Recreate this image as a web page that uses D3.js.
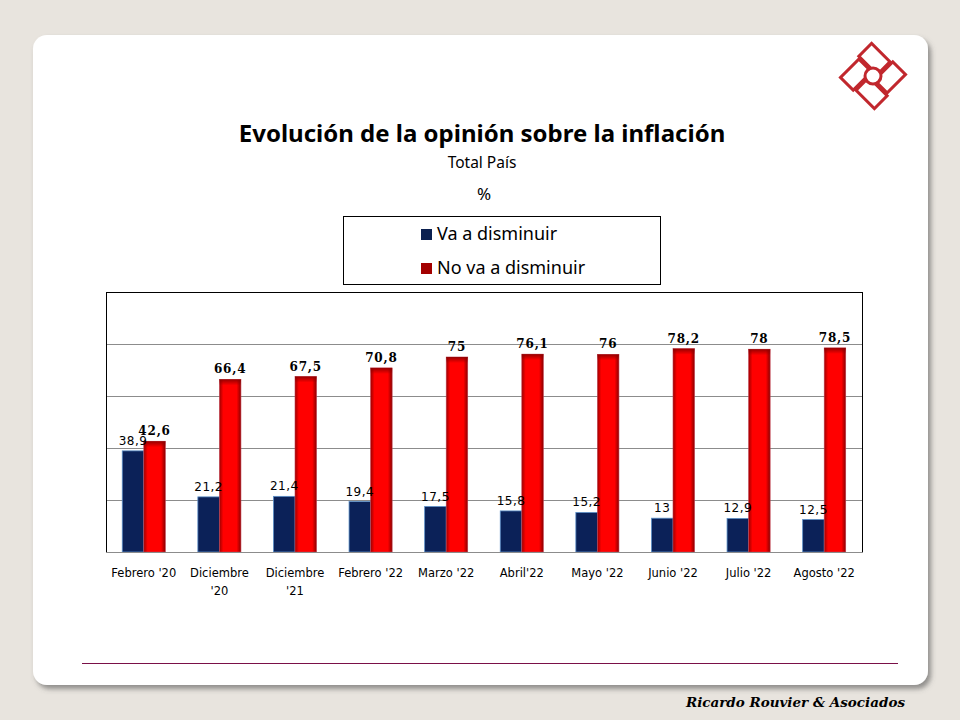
<!DOCTYPE html>
<html>
<head>
<meta charset="utf-8">
<script src="https://cdn.jsdelivr.net/npm/d3@7"></script>
<style>
  body { margin: 0; background: #e8e4de; }
  svg { display: block; }
</style>
</head>
<body>
<div id="container"></div>
<script>
// data
var categories = ["Febrero '20", "Diciembre '20", "Diciembre '21", "Febrero '22", "Marzo '22",
                  "Abril'22", "Mayo '22", "Junio '22", "Julio '22", "Agosto '22"];
var vaDisminuir = [38.9, 21.2, 21.4, 19.4, 17.5, 15.8, 15.2, 13, 12.9, 12.5];
var noVaDisminuir = [42.6, 66.4, 67.5, 70.8, 75, 76.1, 76, 78.2, 78, 78.5];
var seriesNames = ["Va a disminuir", "No va a disminuir"];
var yTicks = [0, 20, 40, 60, 80, 100];

var W = 960, H = 720;
var svg = d3.select("#container").append("svg").attr("width", W).attr("height", H);
var defs = svg.append("defs");

// panel shadow
var f = defs.append("filter").attr("id", "shadow").attr("x", "-5%").attr("y", "-5%").attr("width", "110%").attr("height", "112%");
f.append("feDropShadow").attr("dx", 3).attr("dy", 4).attr("stdDeviation", 2.5).attr("flood-color", "#555").attr("flood-opacity", 0.6);

var redGrad = defs.append("linearGradient").attr("id", "redGrad").attr("x1", "0%").attr("x2", "100%");
redGrad.append("stop").attr("offset", "0%").attr("stop-color", "#9e0000");
redGrad.append("stop").attr("offset", "18%").attr("stop-color", "#ff0000");
redGrad.append("stop").attr("offset", "80%").attr("stop-color", "#ff0000");
redGrad.append("stop").attr("offset", "100%").attr("stop-color", "#8a0000");

var redTop = defs.append("linearGradient").attr("id", "redTop").attr("x1", "0%").attr("x2", "0%").attr("y1", "0%").attr("y2", "100%");
redTop.append("stop").attr("offset", "0%").attr("stop-color", "#8a0000").attr("stop-opacity", 0.9);
redTop.append("stop").attr("offset", "100%").attr("stop-color", "#8a0000").attr("stop-opacity", 0);

svg.append("rect").attr("x", 33).attr("y", 35).attr("width", 895).attr("height", 650)
  .attr("rx", 14).attr("fill", "#fff").attr("filter", "url(#shadow)");

// logo
var logo = svg.append("g").attr("transform", "translate(873,76) rotate(45)")
  .attr("fill", "none").attr("stroke", "#c1272d").attr("stroke-width", 3);
logo.append("rect").attr("x", -24).attr("y", -22).attr("width", 26).attr("height", 18);
logo.append("rect").attr("x", 4).attr("y", -24).attr("width", 18).attr("height", 26);
logo.append("rect").attr("x", -2).attr("y", 4).attr("width", 26).attr("height", 18);
logo.append("rect").attr("x", -22).attr("y", -2).attr("width", 18).attr("height", 26);
logo.append("circle").attr("r", 8).attr("fill", "#fff");

// titles
svg.append("text").attr("x", 482).attr("y", 142).attr("text-anchor", "middle")
  .style("font-family", "'Noto Sans', sans-serif").style("font-weight", "bold").style("font-size", "24px")
  .text("Evolución de la opinión sobre la inflación");
svg.append("text").attr("x", 482).attr("y", 168).attr("text-anchor", "middle")
  .style("font-family", "'Noto Sans', sans-serif").style("font-size", "15.5px").text("Total País");
svg.append("text").attr("x", 484).attr("y", 200).attr("text-anchor", "middle")
  .style("font-family", "'Noto Sans', sans-serif").style("font-size", "17px").text("%");

// legend
var legend = svg.append("g");
legend.append("rect").attr("x", 343.5).attr("y", 216.5).attr("width", 317).attr("height", 68)
  .attr("fill", "#fff").attr("stroke", "#000");
var legendColors = ["#0b2050", "#a30000"];
seriesNames.forEach(function(s, i) {
  legend.append("rect").attr("x", 421).attr("y", 229 + i * 34).attr("width", 11).attr("height", 11)
    .attr("fill", legendColors[i]);
  legend.append("text").attr("x", 437).attr("y", 240 + i * 34)
    .style("font-family", "'Noto Sans', sans-serif").style("font-size", "18px").text(s);
});

// plot
var pLeft = 106, pRight = 862, pTop = 292, pBottom = 552;
var y = d3.scaleLinear().domain([0, 100]).range([pBottom, pTop]);
var x0 = d3.scaleBand().domain(categories).range([pLeft, pRight]).paddingInner(0.43).paddingOuter(0.215);
var x1 = d3.scaleBand().domain(seriesNames).range([0, x0.bandwidth()]);

svg.append("g").selectAll("line").data(yTicks.slice(1, 5)).enter().append("line")
  .attr("x1", pLeft).attr("x2", pRight).attr("y1", function(d) { return Math.round(y(d)) + 0.5; }).attr("y2", function(d) { return Math.round(y(d)) + 0.5; })
  .attr("stroke", "#8c8c8c").attr("stroke-width", 1);

svg.append("rect").attr("x", pLeft + 0.5).attr("y", pTop + 0.5).attr("width", pRight - pLeft).attr("height", pBottom - pTop)
  .attr("fill", "none").attr("stroke", "#000").attr("stroke-width", 1);

var groups = svg.append("g").selectAll("g").data(categories).enter().append("g")
  .attr("transform", function(d) { return "translate(" + x0(d) + ",0)"; });

groups.append("rect")
  .attr("x", x1(seriesNames[0]))
  .attr("y", function(d, i) { return y(vaDisminuir[i]); })
  .attr("width", x1.bandwidth())
  .attr("height", function(d, i) { return pBottom - y(vaDisminuir[i]); })
  .attr("fill", "#0b2158").attr("stroke", "#5b8fc8").attr("stroke-width", 0.8);

groups.append("rect")
  .attr("x", x1(seriesNames[1]))
  .attr("y", function(d, i) { return y(noVaDisminuir[i]); })
  .attr("width", x1.bandwidth())
  .attr("height", function(d, i) { return pBottom - y(noVaDisminuir[i]); })
  .attr("fill", "url(#redGrad)").attr("stroke", "#c04050").attr("stroke-width", 0.6);
groups.append("rect")
  .attr("x", x1(seriesNames[1]))
  .attr("y", function(d, i) { return y(noVaDisminuir[i]); })
  .attr("width", x1.bandwidth())
  .attr("height", 6)
  .attr("fill", "url(#redTop)");

svg.append("line").attr("x1", pLeft).attr("x2", pRight + 1).attr("y1", pBottom + 0.5).attr("y2", pBottom + 0.5)
  .attr("stroke", "#8c8c8c");

var fmt = function(v) { return String(v).replace(".", ","); };

groups.append("text")
  .attr("x", x1(seriesNames[0]) + x1.bandwidth() / 2)
  .attr("y", function(d, i) { return y(vaDisminuir[i]) - 6; })
  .attr("text-anchor", "middle")
  .style("font-family", "'DejaVu Sans', sans-serif").style("font-size", "12px").style("letter-spacing", "0.5px")
  .text(function(d, i) { return fmt(vaDisminuir[i]); });

groups.append("text")
  .attr("x", x1(seriesNames[1]) + x1.bandwidth() / 2)
  .attr("y", function(d, i) { return y(noVaDisminuir[i]) - 6; })
  .attr("text-anchor", "middle")
  .style("font-family", "'DejaVu Serif', serif").style("font-weight", "bold").style("font-size", "12px").style("letter-spacing", "0.8px")
  .text(function(d, i) { return fmt(noVaDisminuir[i]); });

// category labels, wrapped where the slide wraps them
var xl = groups.append("text")
  .attr("x", x0.bandwidth() / 2).attr("y", 577).attr("text-anchor", "middle")
  .style("font-family", "'DejaVu Sans', sans-serif").style("font-size", "11.5px");
xl.each(function(d) {
  var t = d3.select(this);
  var parts = d.indexOf("Diciembre") === 0 ? d.split(" ") : [d];
  parts.forEach(function(p, k) {
    t.append("tspan").attr("x", x0.bandwidth() / 2).attr("dy", k ? 18 : 0).text(p);
  });
});

// footer
svg.append("line").attr("x1", 82).attr("x2", 898).attr("y1", 663.5).attr("y2", 663.5)
  .attr("stroke", "#7a1048").attr("stroke-width", 1.2);
svg.append("text").attr("x", 905).attr("y", 707).attr("text-anchor", "end")
  .style("font-family", "'DejaVu Serif', serif").style("font-style", "italic").style("font-weight", "bold")
  .style("font-size", "13.5px")
  .text("Ricardo Rouvier & Asociados");
</script>
</body>
</html>
